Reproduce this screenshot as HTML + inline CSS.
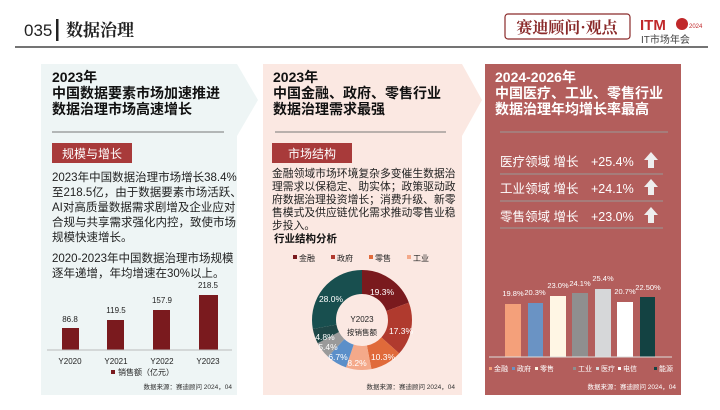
<!DOCTYPE html>
<html><head><meta charset="utf-8"><style>
body{margin:0;width:720px;height:405px;background:#fff;overflow:hidden;font-family:"Liberation Sans","Noto Sans CJK SC",sans-serif;}
</style></head><body>
<svg width="720" height="405" xmlns="http://www.w3.org/2000/svg" font-family="Liberation Sans, Noto Sans CJK SC, sans-serif">
<!-- header -->
<text x="24" y="36" font-size="17" fill="#222">035</text>
<rect x="56" y="19" width="2.5" height="22" fill="#222"/>
<text x="66" y="36" font-size="17" font-weight="bold" font-family="Noto Serif CJK SC, serif" fill="#222">数据治理</text>
<line x1="15" y1="47" x2="708" y2="47" stroke="#222" stroke-width="1.2"/>
<rect x="505" y="14" width="125" height="25" rx="3" fill="#fff" stroke="#8a2a2a" stroke-width="1.2"/>
<text x="567" y="33" font-size="16" font-weight="bold" text-anchor="middle" fill="#8a2a2a" font-family="Noto Serif CJK SC, serif">赛迪顾问·观点</text>
<text x="640" y="30" font-size="15" font-weight="bold" fill="#c0282a">ITM</text>
<circle cx="682" cy="24" r="6" fill="#c0282a"/>
<text x="689" y="28" font-size="6" fill="#c0282a">2024</text>
<text x="641" y="43" font-size="10" fill="#444">IT市场年会</text>

<!-- panels -->
<polygon points="41,64 237,64 258,100 237,136 237,395 41,395" fill="#eef5f5"/>
<polygon points="263,64 462,64 482,100 462,136 462,395 263,395" fill="#fbe8e2"/>
<rect x="485" y="64" width="196" height="331" fill="#b35e5c"/>

<g font-weight="bold" font-size="14" fill="#111">
<text x="52" y="82">2023年</text>
<text x="52" y="98">中国数据要素市场加速推进</text>
<text x="52" y="114">数据治理市场高速增长</text>
<text x="273" y="82">2023年</text>
<text x="273" y="98">中国金融、政府、零售行业</text>
<text x="273" y="114">数据治理需求最强</text>
</g>
<g font-weight="bold" font-size="14" fill="#fff">
<text x="495" y="82">2024-2026年</text>
<text x="495" y="98">中国医疗、工业、零售行业</text>
<text x="495" y="114">数据治理年均增长率最高</text>
</g>
<line x1="52" y1="132" x2="224" y2="132" stroke="#777"/>
<line x1="275" y1="132" x2="446" y2="132" stroke="#777"/>
<line x1="500" y1="132" x2="668" y2="132" stroke="#999"/>

<!-- panel1 -->
<rect x="52" y="143" width="80" height="20" fill="#a83a3a"/>
<text x="92" y="158" font-size="12" fill="#fff" text-anchor="middle">规模与增长</text>
<g font-size="11.5" fill="#222">
<text x="52" y="181">2023年中国数据治理市场增长38.4%</text>
<text x="52" y="196">至218.5亿，由于数据要素市场活跃、</text>
<text x="52" y="211">AI对高质量数据需求剧增及企业应对</text>
<text x="52" y="226">合规与共享需求强化内控，致使市场</text>
<text x="52" y="241">规模快速增长。</text>
<text x="52" y="262">2020-2023年中国数据治理市场规模</text>
<text x="52" y="277">逐年递增，年均增速在30%以上。</text>
</g>
<g fill="#7a1a1e">
<rect x="62" y="328" width="17" height="22"/>
<rect x="107" y="320" width="17" height="30"/>
<rect x="153" y="310" width="17" height="40"/>
<rect x="199" y="295" width="19" height="55"/>
</g>
<line x1="47" y1="350" x2="232" y2="350" stroke="#bbb"/>
<g font-size="8" fill="#222" text-anchor="middle">
<text x="70" y="322">86.8</text><text x="116" y="313">119.5</text><text x="162" y="303">157.9</text><text x="208" y="288">218.5</text>
<text x="70" y="364">Y2020</text><text x="116" y="364">Y2021</text><text x="162" y="364">Y2022</text><text x="208" y="364">Y2023</text>
</g>
<rect x="111" y="370" width="4" height="4" fill="#7a1a1e"/>
<text x="118" y="375" font-size="8" fill="#222">销售额（亿元）</text>
<text x="232" y="389" font-size="6.5" fill="#333" text-anchor="end">数据来源：赛迪顾问 2024，04</text>

<!-- panel2 -->
<rect x="272" y="143" width="80" height="20" fill="#a83a3a"/>
<text x="312" y="158" font-size="12" fill="#fff" text-anchor="middle">市场结构</text>
<g font-size="10.8" fill="#222">
<text x="272" y="177">金融领域市场环境复杂多变催生数据治</text>
<text x="272" y="190">理需求以保稳定、助实体；政策驱动政</text>
<text x="272" y="203">府数据治理投资增长；消费升级、新零</text>
<text x="272" y="216">售模式及供应链优化需求推动零售业稳</text>
<text x="272" y="229">步投入。</text>
</g>
<text x="274" y="242" font-size="10.5" font-weight="bold" fill="#111">行业结构分析</text>
<g font-size="8" fill="#222">
<rect x="293" y="255" width="4" height="4" fill="#7a1a1e"/><text x="299" y="261">金融</text>
<rect x="331" y="255" width="4" height="4" fill="#b03a2e"/><text x="337" y="261">政府</text>
<rect x="369" y="255" width="4" height="4" fill="#e06a3a"/><text x="375" y="261">零售</text>
<rect x="407" y="255" width="4" height="4" fill="#f4a98a"/><text x="413" y="261">工业</text>
</g>
<g transform="translate(362,320) rotate(-90)" fill="none" stroke-width="24">
<circle r="38" stroke="#7a1a1e" stroke-dasharray="46.08 1000" stroke-dashoffset="0"/>
<circle r="38" stroke="#b03a2e" stroke-dasharray="41.31 1000" stroke-dashoffset="-46.08"/>
<circle r="38" stroke="#e06a3a" stroke-dasharray="24.59 1000" stroke-dashoffset="-87.39"/>
<circle r="38" stroke="#f4a98a" stroke-dasharray="19.58 1000" stroke-dashoffset="-111.98"/>
<circle r="38" stroke="#5b8fc9" stroke-dasharray="16.00 1000" stroke-dashoffset="-131.56"/>
<circle r="38" stroke="#9a9a9a" stroke-dasharray="12.89 1000" stroke-dashoffset="-147.56"/>
<circle r="38" stroke="#1f4747" stroke-dasharray="11.46 1000" stroke-dashoffset="-160.45"/>
<circle r="38" stroke="#184f4f" stroke-dasharray="66.85 1000" stroke-dashoffset="-171.91"/>
</g>
<g font-size="8.5" fill="#fff" text-anchor="middle">
<text x="382" y="295">19.3%</text><text x="401" y="334">17.3%</text><text x="383" y="360">10.3%</text>
<text x="357" y="366">8.2%</text><text x="338" y="360">6.7%</text><text x="328" y="350">5.4%</text>
<text x="325" y="340">4.8%</text><text x="331" y="302">28.0%</text>
</g>
<text x="362" y="322" font-size="8" fill="#222" text-anchor="middle">Y2023</text>
<text x="362" y="335" font-size="7.5" fill="#222" text-anchor="middle">按销售额</text>
<text x="455" y="389" font-size="6.5" fill="#333" text-anchor="end">数据来源：赛迪顾问 2024，04</text>

<!-- panel3 -->
<g font-size="12.5" fill="#fff">
<text x="500" y="166">医疗领域 增长</text><text x="591" y="166">+25.4%</text>
<text x="500" y="193">工业领域 增长</text><text x="591" y="193">+24.1%</text>
<text x="500" y="221">零售领域 增长</text><text x="591" y="221">+23.0%</text>
</g>
<g fill="#eee">
<polygon points="651,152 658,160 654,160 654,168 648,168 648,160 644,160"/>
<polygon points="651,179 658,187 654,187 654,195 648,195 648,187 644,187"/>
<polygon points="651,207 658,215 654,215 654,223 648,223 648,215 644,215"/>
</g>
<g stroke="#999"><line x1="500" y1="174" x2="663" y2="174"/><line x1="500" y1="201" x2="663" y2="201"/><line x1="500" y1="228" x2="663" y2="228"/></g>
<rect x="505" y="304" width="16" height="53" fill="#f4a07a"/>
<rect x="528" y="303" width="15" height="54" fill="#6a93c4"/>
<rect x="550" y="296" width="16" height="61" fill="#fff6e4"/>
<rect x="572" y="293" width="16" height="64" fill="#8f8f8f"/>
<rect x="595" y="289" width="16" height="68" fill="#d6d7d9"/>
<rect x="617" y="302" width="16" height="55" fill="#fff"/>
<rect x="640" y="297" width="15" height="60" fill="#134242"/>
<line x1="489" y1="357" x2="672" y2="357" stroke="#ddd"/>
<g font-size="7.5" fill="#fff" text-anchor="middle">
<text x="513" y="296">19.8%</text><text x="535" y="295">20.3%</text><text x="558" y="288">23.0%</text>
<text x="580" y="286">24.1%</text><text x="603" y="281">25.4%</text><text x="625" y="294">20.7%</text><text x="648" y="290">22.50%</text>
</g>
<g font-size="7" fill="#fff">
<rect x="489" y="367" width="3" height="3" fill="#f4a07a"/><text x="494" y="371">金融</text>
<rect x="512" y="367" width="3" height="3" fill="#6a93c4"/><text x="517" y="371">政府</text>
<rect x="535" y="367" width="3" height="3" fill="#fff6e4"/><text x="540" y="371">零售</text>
<rect x="573" y="367" width="3" height="3" fill="#8f8f8f"/><text x="578" y="371">工业</text>
<rect x="596" y="367" width="3" height="3" fill="#d6d7d9"/><text x="601" y="371">医疗</text>
<rect x="618" y="367" width="3" height="3" fill="#fff"/><text x="623" y="371">电信</text>
<rect x="654" y="367" width="3" height="3" fill="#134242"/><text x="659" y="371">能源</text>
</g>
<text x="676" y="389" font-size="6.5" fill="#fff" text-anchor="end">数据来源：赛迪顾问 2024，04</text>
</svg>
</body></html>
